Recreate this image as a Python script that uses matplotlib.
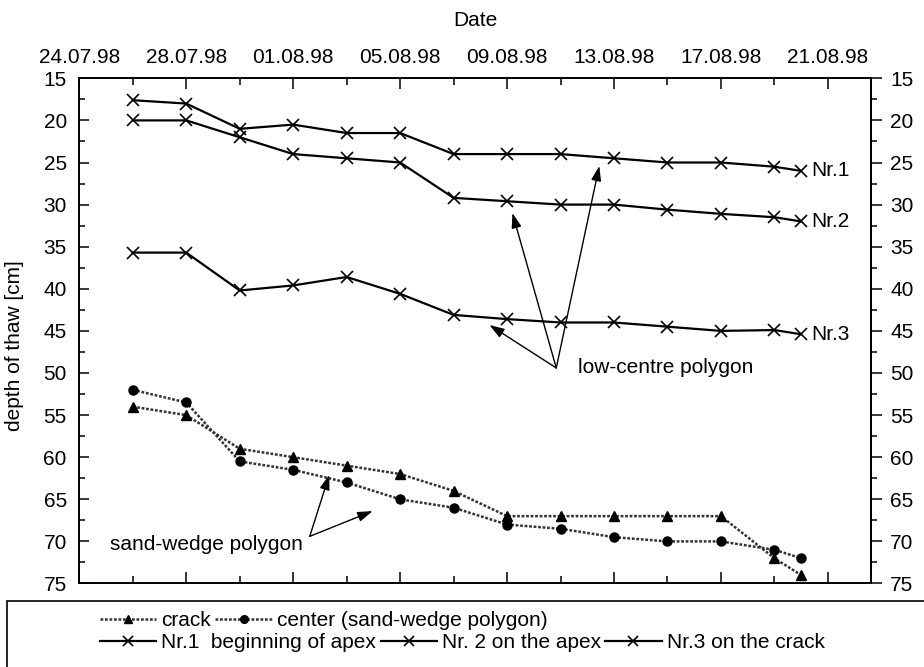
import matplotlib
matplotlib.use("Agg")
import matplotlib.pyplot as plt
import matplotlib.dates as mdates
from matplotlib.patches import Rectangle
from matplotlib.ticker import FixedLocator, MultipleLocator
import pandas as pd

plt.rcParams["font.family"] = ["Liberation Sans", "DejaVu Sans"]
plt.rcParams["font.size"] = 15

# measurement dates and thaw depths [cm]
dates = ["26.07.98", "28.07.98", "30.07.98", "01.08.98", "03.08.98", "05.08.98", "07.08.98",
         "09.08.98", "11.08.98", "13.08.98", "15.08.98", "17.08.98", "19.08.98", "20.08.98"]
crack = [54, 55, 59, 60, 61, 62, 64, 67, 67, 67, 67, 67, 72, 74]
center = [52, 53.5, 60.5, 61.5, 63, 65, 66, 68, 68.5, 69.5, 70, 70, 71, 72]
nr1 = [17.6, 18.0, 21.0, 20.5, 21.5, 21.5, 24.0, 24.0, 24.0, 24.5, 25.0, 25.0, 25.5, 26.0]
nr2 = [20.0, 20.0, 22.0, 24.0, 24.5, 25.0, 29.2, 29.6, 30.0, 30.0, 30.6, 31.1, 31.5, 32.0]
nr3 = [35.7, 35.7, 40.2, 39.6, 38.6, 40.6, 43.1, 43.6, 44.0, 44.0, 44.5, 45.0, 44.9, 45.4]

major_dates = ["24.07.98", "28.07.98", "01.08.98", "05.08.98",
               "09.08.98", "13.08.98", "17.08.98", "21.08.98"]
minor_dates = ["26.07.98", "30.07.98", "03.08.98", "07.08.98",
               "11.08.98", "15.08.98", "19.08.98"]


def to_num(labels):
    return mdates.date2num(pd.to_datetime(labels, format="%d.%m.%y"))


x = to_num(dates)
start = to_num(["24.07.98"])[0]

fig = plt.figure(figsize=(9.24, 6.67), dpi=100)
ax = fig.add_axes([0.0858, 0.1252, 0.8565, 0.7574])

dot = (0, (1.1, 0.7))
l_crack, = ax.plot(x, crack, color="0.2", lw=1.8, ls=dot, marker="^", ms=7.5,
                   mfc="black", mec="black", label="crack")
l_center, = ax.plot(x, center, color="0.2", lw=1.8, ls=dot, marker="o", ms=6.5,
                    mfc="black", mec="black", label="center (sand-wedge polygon)")
l1, = ax.plot(x, nr1, color="black", lw=1.6, marker="x", ms=8, mew=1.2,
              label="Nr.1  beginning of apex")
l2, = ax.plot(x, nr2, color="black", lw=1.6, marker="x", ms=8, mew=1.2,
              label="Nr. 2 on the apex")
l3, = ax.plot(x, nr3, color="black", lw=1.6, marker="x", ms=8, mew=1.2,
              label="Nr.3 on the crack")

# end labels next to the last point of each line
for name, series in [("Nr.1", nr1), ("Nr.2", nr2), ("Nr.3", nr3)]:
    ax.annotate(name, xy=(x[-1], series[-1]), xytext=(7, 0), textcoords="offset points",
                ha="left", va="center")

ax.set_xlim(start, start + 29.6)
ax.set_ylim(75, 15)

ax.xaxis.set_major_locator(FixedLocator(to_num(major_dates)))
ax.xaxis.set_minor_locator(FixedLocator(to_num(minor_dates)))
ax.xaxis.set_major_formatter(mdates.DateFormatter("%d.%m.%y"))
ax.xaxis.set_ticks_position("both")
ax.xaxis.set_label_position("top")
ax.tick_params(axis="x", which="both", direction="in", labeltop=True, labelbottom=False)
ax.tick_params(axis="x", which="major", length=8, width=1.1, pad=8)
ax.tick_params(axis="x", which="minor", length=5, width=1.1)
ax.set_xlabel("Date", labelpad=16)

ax.yaxis.set_major_locator(MultipleLocator(5))
ax.yaxis.set_minor_locator(MultipleLocator(2.5))
ax.tick_params(axis="y", which="both", direction="in", right=False)
ax.tick_params(axis="y", which="major", length=7, width=1.1, pad=9)
ax.tick_params(axis="y", which="minor", length=4, width=1.1)
ax.set_ylabel("depth of thaw [cm]")
ax.yaxis.set_label_coords(-0.07, 0.47)

sec = ax.secondary_yaxis("right")
sec.yaxis.set_major_locator(MultipleLocator(5))
sec.yaxis.set_minor_locator(MultipleLocator(2.5))
sec.tick_params(which="both", direction="out")
sec.tick_params(which="major", length=8, width=1.1, pad=6)
sec.tick_params(which="minor", length=4.5, width=1.1)

for sp in list(ax.spines.values()) + [sec.spines["right"]]:
    sp.set_linewidth(1.4)

# annotations
arrow = dict(arrowstyle="-|>,head_length=0.6,head_width=0.2", color="black", lw=1.0,
             shrinkA=0, shrinkB=0)
low_origin = (start + 17.84, 49.4)
for tip in [(start + 15.34, 44.3), (start + 16.2, 31.0), (start + 19.45, 25.4)]:
    ax.annotate("", xy=tip, xytext=low_origin, arrowprops=arrow)
ax.text(start + 18.65, 49.3, "low-centre polygon", ha="left", va="center")

sand_origin = (start + 8.62, 69.4)
for tip in [(start + 9.35, 62.1), (start + 10.97, 66.4)]:
    ax.annotate("", xy=tip, xytext=sand_origin, arrowprops=arrow)
ax.text(start + 8.37, 70.4, "sand-wedge polygon", ha="right", va="center")

# legend box and the two legend rows
fig.patches.append(Rectangle((7 / 924, -0.05), 1.0, 0.05 + (667 - 601) / 667,
                             transform=fig.transFigure, fill=False, lw=1.2,
                             edgecolor="black"))
common = dict(frameon=False, borderpad=0, borderaxespad=0, handlelength=2.7,
              handletextpad=0.25, columnspacing=0.2, fontsize=15, loc="center left",
              markerscale=0.85)
fig.legend([l_crack, l_center], [l_crack.get_label(), l_center.get_label()], ncol=2,
           bbox_to_anchor=(100 / 924, 1 - 621 / 667), **common)
fig.legend([l1, l2, l3], [l1.get_label(), l2.get_label(), l3.get_label()], ncol=3,
           bbox_to_anchor=(100 / 924, 1 - 643 / 667), **common)

fig.savefig("out.png", dpi=100)
plt.close(fig)
